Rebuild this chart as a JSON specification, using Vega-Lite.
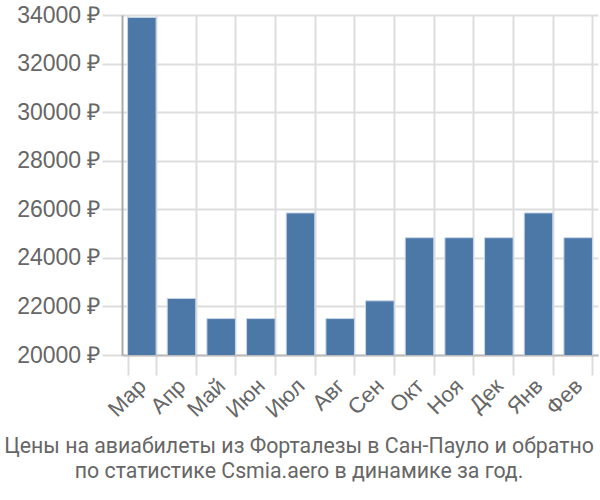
{
  "$schema": "https://vega.github.io/schema/vega-lite/v6.json",
  "autosize": "none",
  "width": 476,
  "height": 340,
  "padding": {"left": 122, "top": 15, "right": 2, "bottom": 145},
  "background": "white",
  "data": {
    "values": [
      {"month": "Мар", "price": 33900},
      {"month": "Апр", "price": 22330},
      {"month": "Май", "price": 21500},
      {"month": "Июн", "price": 21500},
      {"month": "Июл", "price": 25850},
      {"month": "Авг", "price": 21500},
      {"month": "Сен", "price": 22230},
      {"month": "Окт", "price": 24830},
      {"month": "Ноя", "price": 24830},
      {"month": "Дек", "price": 24830},
      {"month": "Янв", "price": 25850},
      {"month": "Фев", "price": 24830}
    ]
  },
  "title": {
    "text": ["Цены на авиабилеты из Форталезы в Сан-Пауло и обратно", "по статистике Csmia.aero в динамике за год."],
    "orient": "bottom",
    "anchor": "middle",
    "frame": "group",
    "offset": 15,
    "dx": -61,
    "font": "Roboto",
    "fontSize": 21.3,
    "fontWeight": "normal",
    "color": "#666666",
    "lineHeight": 25
  },
  "mark": {"type": "bar", "color": "#4c78a8", "stroke": "#c8d6e8", "strokeWidth": 1, "clip": true},
  "encoding": {
    "x": {
      "field": "month",
      "type": "nominal",
      "sort": null,
      "scale": {"paddingInner": 0.28, "paddingOuter": 0.14},
      "axis": {
        "title": null,
        "labelAngle": -45,
        "labelFont": "Liberation Sans",
        "labelFontSize": 22,
        "labelColor": "#666666",
        "labelPadding": 0,
        "labelOffset": -7,
        "tickSize": 20,
        "tickColor": "#dddddd",
        "tickWidth": 2,
        "tickBand": "extent",
        "grid": true,
        "gridColor": "#dddddd",
        "gridWidth": 2,
        "domainColor": "#bbbbbb",
        "domainWidth": 2
      }
    },
    "y": {
      "field": "price",
      "type": "quantitative",
      "scale": {"domain": [20000, 34000], "nice": false, "zero": false},
      "axis": {
        "title": null,
        "values": [20000, 22000, 24000, 26000, 28000, 30000, 32000, 34000],
        "labelExpr": "datum.value + ' ₽'",
        "labelFont": "Liberation Sans",
        "labelFontSize": 23,
        "labelColor": "#666666",
        "labelPadding": 2,
        "tickSize": 20,
        "tickColor": "#dddddd",
        "tickWidth": 2,
        "gridColor": "#dddddd",
        "gridWidth": 2,
        "domainColor": "#aaaaaa",
        "domainWidth": 2
      }
    }
  },
  "config": {"view": {"stroke": null}}
}
